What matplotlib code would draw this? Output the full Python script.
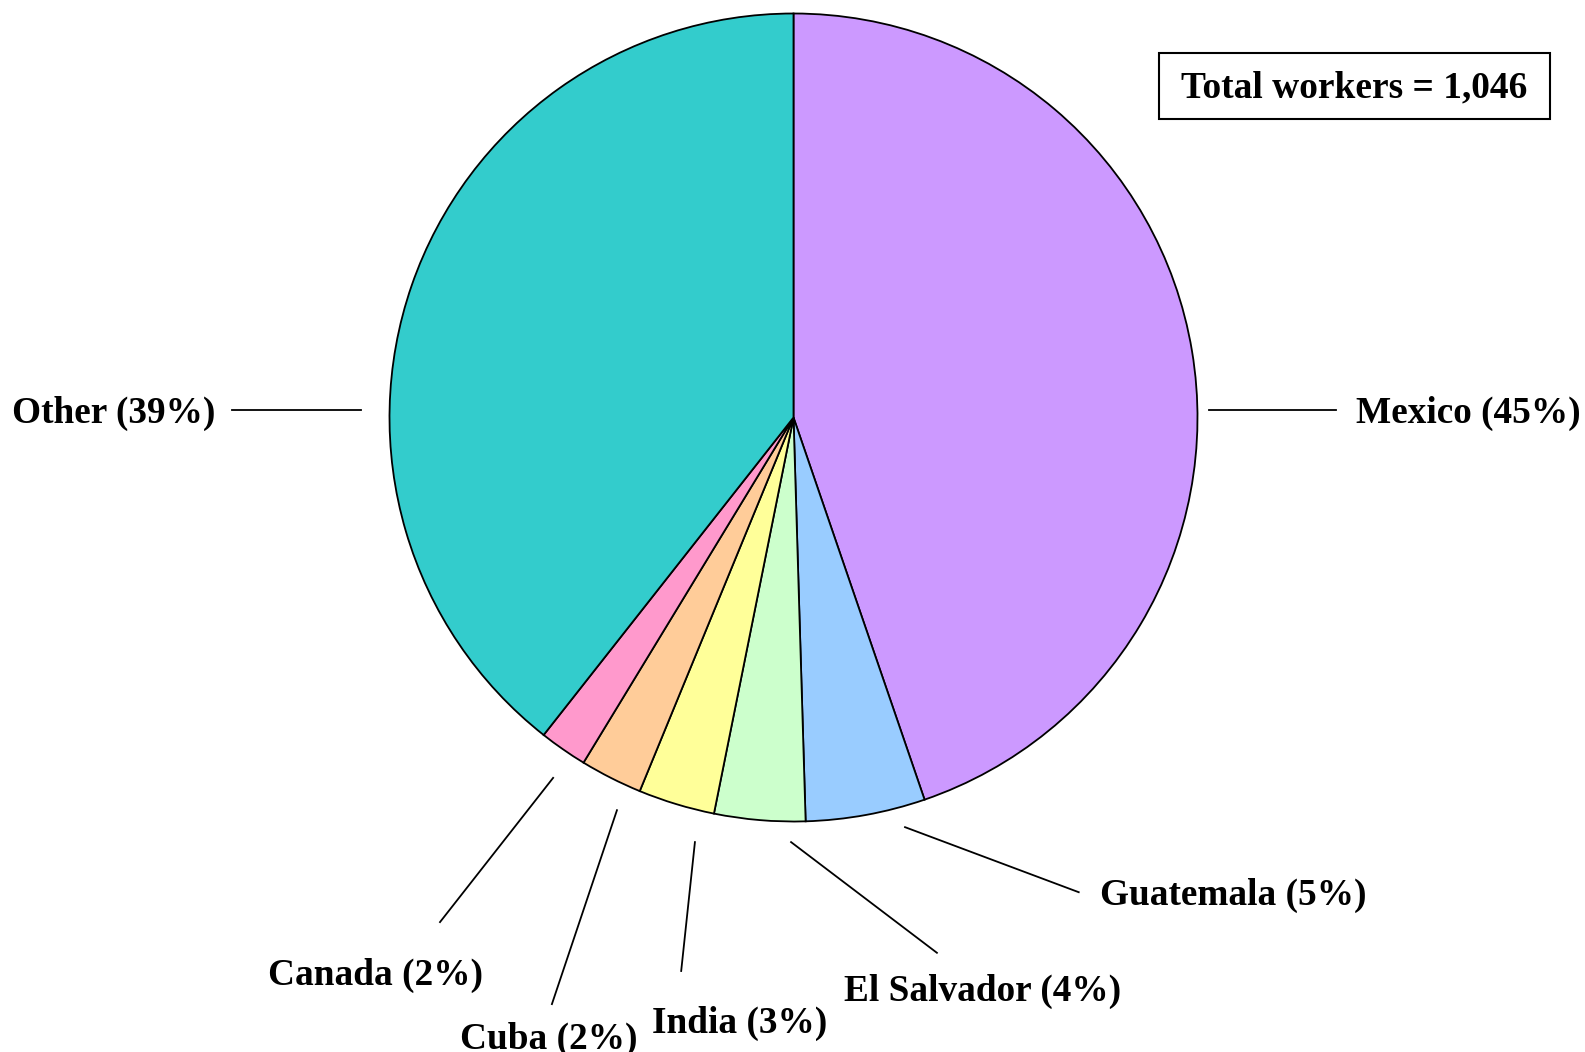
import matplotlib.pyplot as plt
from matplotlib.patches import Rectangle

# data (worker counts)
countries = ['Mexico', 'Guatemala', 'El Salvador', 'India', 'Cuba', 'Canada', 'Other']
workers = [468, 50, 38, 32, 26, 20, 412]
colors = ['#CC99FF', '#99CCFF', '#CCFFCC', '#FFFF99', '#FFCC99', '#FF99CC', '#33CCCC']

# label layout in units of the pie radius: leader line start/end, text anchor
line_start = [(1.028, 0.019), (0.276, -1.014), (-0.006, -1.051), (-0.244, -1.051),
              (-0.437, -0.972), (-0.595, -0.892), (-1.070, 0.019)]
line_end = [(1.343, 0.019), (0.706, -1.175), (0.355, -1.325), (-0.278, -1.370),
            (-0.598, -1.452), (-0.875, -1.249), (-1.390, 0.019)]
text_pos = [(1.392, 0.011, 'left'), (0.759, -1.183, 'left'), (0.124, -1.420, 'left'),
            (-0.350, -1.499, 'left'), (-0.826, -1.540, 'left'), (-1.300, -1.380, 'left'),
            (-1.432, 0.011, 'right')]

plt.rcParams['font.family'] = ['Liberation Serif', 'DejaVu Serif']
plt.rcParams['font.weight'] = 'bold'

W, H = 1585, 1052
cx, cy, r = 793.5, 417.5, 404
fig = plt.figure(figsize=(W / 100, H / 100), dpi=100)
ax = fig.add_axes([(cx - r) / W, (H - cy - r) / H, 2 * r / W, 2 * r / H])

total = sum(workers)
ax.pie(workers, colors=colors, startangle=90, counterclock=False, radius=1,
       wedgeprops=dict(edgecolor='black', linewidth=1.3))
ax.set_xlim(-1, 1)
ax.set_ylim(-1, 1)
ax.set_aspect('equal')
ax.axis('off')

for i, name in enumerate(countries):
    pct = round(100 * workers[i] / total)
    (x0, y0), (x1, y1) = line_start[i], line_end[i]
    ax.plot([x0, x1], [y0, y1], color='black', lw=1.3, clip_on=False)
    tx, ty, ha = text_pos[i]
    ax.text(tx, ty, f'{name} ({pct}%)', ha=ha, va='center', fontsize=26.8,
            fontweight='bold')

# total box
bx0, by0, bx1, by1 = 1159, 53, 1550, 119
fig.patches.append(Rectangle((bx0 / W, 1 - by1 / H), (bx1 - bx0) / W, (by1 - by0) / H,
                             transform=fig.transFigure, fill=False, edgecolor='black',
                             linewidth=1.5))
fig.text((bx0 + bx1) / 2 / W, 1 - (by0 + by1 + 4) / 2 / H, f'Total workers = {total:,}',
         ha='center', va='center', fontsize=27, fontweight='bold')

fig.savefig('out.png', dpi=100)
